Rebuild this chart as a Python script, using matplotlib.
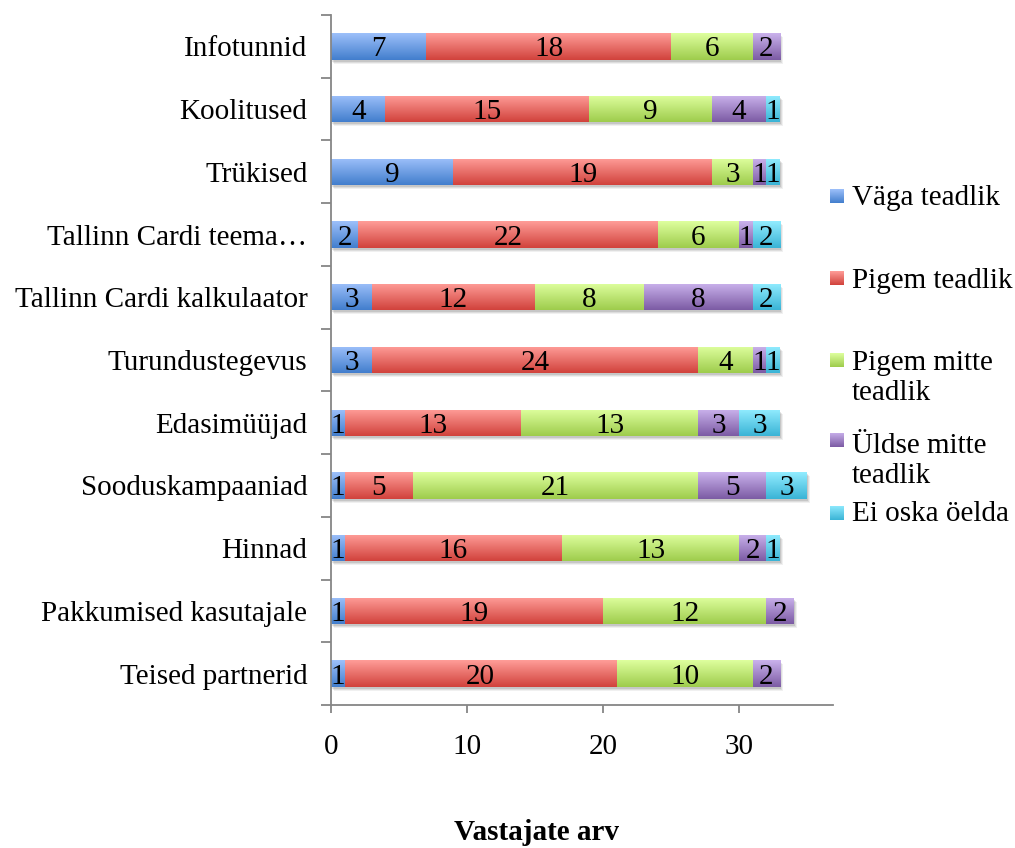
import matplotlib.pyplot as plt
import matplotlib.transforms as mtransforms
import numpy as np

plt.rcParams['font.family'] = ['Liberation Serif', 'DejaVu Serif']

categories = ['Infotunnid', 'Koolitused', 'Trükised', 'Tallinn Cardi teema…',
              'Tallinn Cardi kalkulaator', 'Turundustegevus', 'Edasimüüjad',
              'Sooduskampaaniad', 'Hinnad', 'Pakkumised kasutajale',
              'Teised partnerid']
vaga_teadlik = [7, 4, 9, 2, 3, 3, 1, 1, 1, 1, 1]
pigem_teadlik = [18, 15, 19, 22, 12, 24, 13, 5, 16, 19, 20]
pigem_mitte = [6, 9, 3, 6, 8, 4, 13, 21, 13, 12, 10]
uldse_mitte = [2, 4, 1, 1, 8, 1, 3, 5, 2, 2, 2]
ei_oska = [0, 1, 1, 2, 2, 1, 3, 3, 1, 0, 0]
series = [vaga_teadlik, pigem_teadlik, pigem_mitte, uldse_mitte, ei_oska]
series_labels = ['Väga teadlik', 'Pigem teadlik', 'Pigem mitte\nteadlik',
                 'Üldse mitte\nteadlik', 'Ei oska öelda']
xlabel = 'Vastajate arv'

# (top, bottom) colours of each series' vertical gradient
grad = [((157, 192, 250), (66, 126, 205)),
        ((255, 157, 152), (209, 66, 60)),
        ((222, 255, 158), (158, 204, 76)),
        ((202, 178, 236), (124, 91, 164)),
        ((146, 236, 255), (58, 180, 214))]

def gradient(top, bottom, n=64):
    t = np.linspace(0, 1, n)[:, None]
    c = (1 - t) * np.array(top) + t * np.array(bottom)
    return (c / 255.0)[:, None, :]

fig = plt.figure(figsize=(10.15, 8.48), dpi=100)
ax = fig.add_axes([331 / 1015, 1 - 705 / 848, (833 - 331) / 1015, (705 - 15) / 848])

n = len(categories)
y = np.arange(n)[::-1]
h = 0.42
fs = 21

# soft drop shadow under each whole bar
totals = np.sum(series, axis=0)
for k, a in enumerate([0.06, 0.08, 0.10]):
    sh = ax.barh(y, totals, height=h, color='black', alpha=a, linewidth=0, zorder=1)
    off = mtransforms.ScaledTranslation((3 - k) / 100, -(4 - k) / 100, fig.dpi_scale_trans)
    for p in sh.patches:
        p.set_transform(ax.transData + off)

left = np.zeros(n)
for vals, (top, bottom) in zip(series, grad):
    bars = ax.barh(y, vals, left=left, height=h, facecolor='none',
                   edgecolor='none', zorder=3)
    img = gradient(top, bottom)
    for p in bars.patches:
        if p.get_width() <= 0:
            continue
        x0, y0 = p.get_x(), p.get_y()
        im = ax.imshow(img, extent=(x0, x0 + p.get_width(), y0, y0 + p.get_height()),
                       origin='upper', aspect='auto', interpolation='bilinear', zorder=2)
        im.set_clip_path(p)
    texts = ax.bar_label(bars, labels=[str(v) if v else '' for v in vals],
                         label_type='center', fontsize=fs, color='black', zorder=4)
    for t in texts:
        t.set_va('center_baseline')
    left += np.array(vals)

ax.set_xlim(0, 36.9)
ax.set_ylim(-0.5, n - 0.5)
ax.set_yticks(y)
ax.set_yticklabels(categories, fontsize=fs)
ax.set_yticks(np.arange(-0.5, n), minor=True)
ax.tick_params(axis='y', which='major', length=0, pad=17)
ax.tick_params(axis='y', which='minor', length=7, width=1.3, color='#868686')
ax.set_xticks([0, 10, 20, 30])
ax.tick_params(axis='x', which='major', length=6, width=1.3, color='#868686',
               labelsize=fs, pad=15)
for s in ['top', 'right']:
    ax.spines[s].set_visible(False)
for s in ['left', 'bottom']:
    ax.spines[s].set_color('#868686')
    ax.spines[s].set_linewidth(1.3)

fig.text(537 / 1015, 1 - 832 / 848, xlabel, ha='center', va='center',
         fontsize=fs, fontweight='bold')

# legend, drawn by hand to keep Excel's uneven entry spacing
squares = [203, 285, 367, 447, 520]     # bottom edge of each swatch, px
baselines = [205, 288, 400, 483, 521]   # baseline of the last text line, px
for lab, (top, bottom), sb, b in zip(series_labels, grad, squares, baselines):
    sq = fig.add_axes([830 / 1015, 1 - sb / 848, 14 / 1015, 14 / 848])
    sq.imshow(gradient(top, bottom), aspect='auto', interpolation='bilinear')
    sq.set_axis_off()
    fig.text(852 / 1015, 1 - b / 848, lab, ha='left', va='baseline',
             fontsize=fs, linespacing=1.2)

fig.savefig('out.png', dpi=100)
